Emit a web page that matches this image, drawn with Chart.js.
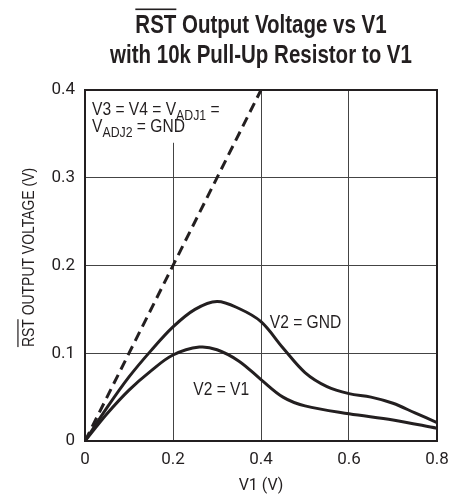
<!DOCTYPE html>
<html>
<head>
<meta charset="utf-8">
<script src="https://cdn.jsdelivr.net/npm/chart.js@4"></script>
<style>
  html, body { margin: 0; padding: 0; background: #fff; }
  #wrap { width: 459px; height: 496px; }
</style>
</head>
<body>
<div id="wrap"><canvas id="rstChart"></canvas></div>
<script>
const FONT = "'Liberation Sans', Arial, sans-serif";
const TICK_FONT = "Roboto, 'Liberation Sans', sans-serif";
const INK = "#231f20";
const NARROW = 0.82; // fake condensed face

// x axis (V1) and y axis ticks
const xTicks = [0, 0.2, 0.4, 0.6, 0.8];
const yTicks = [0, 0.1, 0.2, 0.3, 0.4];

// dashed reference: V3 = V4 = VADJ1 = VADJ2 = GND
const refV1 = [0, 0.4];
const refOut = [0, 0.4];

// V2 = GND
const gndV1 = [0, 0.05, 0.1, 0.15, 0.2, 0.25, 0.3, 0.35, 0.4, 0.45, 0.5, 0.55, 0.6, 0.65, 0.7, 0.75, 0.8];
const gndOut = [0, 0.038, 0.073, 0.103, 0.13, 0.15, 0.159, 0.151, 0.136, 0.106, 0.078, 0.062, 0.054, 0.05, 0.043, 0.032, 0.021];

// V2 = V1
const v1V1 = [0, 0.05, 0.1, 0.15, 0.2, 0.26, 0.3, 0.35, 0.4, 0.45, 0.5, 0.6, 0.7, 0.8];
const v1Out = [0, 0.031, 0.058, 0.08, 0.098, 0.107, 0.104, 0.091, 0.07, 0.05, 0.04, 0.031, 0.024, 0.0145];

const toPoints = (xs, ys) => xs.map((x, i) => ({ x: x, y: ys[i] }));

// draws condensed text; parts = [{t, sub, over}], returns width
function drawRun(ctx, parts, x, y, size, bold, align) {
  const fontOf = (p) => (bold ? "bold " : "") + (p.sub ? Math.round(size * 0.78) : size) + "px " + FONT;
  let total = 0;
  parts.forEach(p => { ctx.font = fontOf(p); total += ctx.measureText(p.t).width; });
  ctx.save();
  ctx.translate(x, y);
  ctx.scale(NARROW, 1);
  let cx = align === "center" ? -total / 2 : 0;
  ctx.textAlign = "left";
  parts.forEach(p => {
    ctx.font = fontOf(p);
    const w = ctx.measureText(p.t).width;
    ctx.fillText(p.t, cx, p.sub ? size * 0.28 : 0);
    if (p.over) ctx.fillRect(cx, -size * 0.98, w, bold ? 1.6 : 1.2);
    cx += w;
  });
  ctx.restore();
}

const decor = {
  id: "decor",
  beforeDatasetsDraw(chart) {
    const { ctx, chartArea, scales } = chart;
    // 0.2 grid line is interrupted by the note
    const gx = scales.x.getPixelForValue(0.2);
    ctx.save();
    ctx.fillStyle = "#fff";
    ctx.fillRect(gx - 2, chartArea.top + 1, 4, scales.y.getPixelForValue(0.341) - chartArea.top);
    ctx.restore();
  },
  afterDatasetsDraw(chart) {
    const { ctx, chartArea, scales } = chart;
    const { left, top, right, bottom } = chartArea;
    ctx.save();
    // plot frame
    ctx.strokeStyle = INK;
    ctx.lineWidth = 2;
    ctx.strokeRect(left, top, right - left, bottom - top);

    ctx.fillStyle = INK;
    ctx.textBaseline = "alphabetic";

    // title
    const cx = (left + right) / 2;
    drawRun(ctx, [{ t: "RST", over: true }, { t: " Output Voltage vs V1" }], cx, 33, 25, true, "center");
    drawRun(ctx, [{ t: "with 10k Pull-Up Resistor to V1" }], cx, 63, 25, true, "center");

    // y axis title
    ctx.save();
    ctx.translate(34, (top + bottom) / 2 - 8);
    ctx.rotate(-Math.PI / 2);
    drawRun(ctx, [{ t: "RST", over: true }, { t: " OUTPUT VOLTAGE (V)" }], 0, 0, 17, false, "center");
    ctx.restore();

    // notes
    const nx = scales.x.getPixelForValue(0.016);
    drawRun(ctx, [{ t: "V3 = V4 = V" }, { t: "ADJ1", sub: true }, { t: " =" }], nx, scales.y.getPixelForValue(0.372), 19, false);
    drawRun(ctx, [{ t: "V" }, { t: "ADJ2", sub: true }, { t: " = GND" }], nx, scales.y.getPixelForValue(0.352), 19, false);
    drawRun(ctx, [{ t: "V2 = GND" }], scales.x.getPixelForValue(0.42), scales.y.getPixelForValue(0.129), 19, false);
    drawRun(ctx, [{ t: "V2 = V1" }], scales.x.getPixelForValue(0.246), scales.y.getPixelForValue(0.052), 19, false);
    ctx.restore();
  }
};

new Chart(document.getElementById("rstChart").getContext("2d"), {
  type: "scatter",
  data: {
    datasets: [
      {
        label: "V3 = V4 = VADJ1 = VADJ2 = GND",
        data: toPoints(refV1, refOut),
        showLine: true,
        borderColor: INK,
        borderWidth: 3,
        borderDash: [10, 6],
        pointRadius: 0,
      },
      {
        label: "V2 = GND",
        data: toPoints(gndV1, gndOut),
        showLine: true,
        borderColor: INK,
        borderWidth: 3,
        tension: 0.35,
        pointRadius: 0,
      },
      {
        label: "V2 = V1",
        data: toPoints(v1V1, v1Out),
        showLine: true,
        borderColor: INK,
        borderWidth: 3,
        tension: 0.35,
        pointRadius: 0,
      },
    ],
  },
  options: {
    responsive: true,
    maintainAspectRatio: false,
    animation: false,
    layout: {
      padding: { top: 90, right: 22, left: 0, bottom: 0 },
    },
    scales: {
      x: {
        type: "linear",
        min: 0,
        max: 0.8,
        afterBuildTicks: (s) => { s.ticks = xTicks.map(v => ({ value: v })); },
        afterFit: (s) => { s.height = 55; },
        grid: { color: "#444", lineWidth: 1, drawTicks: false },
        border: { display: false },
        ticks: {
          color: INK,
          padding: 9,
          font: { family: TICK_FONT, size: 17 },
          callback: (v) => String(v),
        },
        title: {
          display: true,
          text: "V1 (V)",
          color: INK,
          font: { family: TICK_FONT, size: 16 },
          padding: { top: 4, bottom: 0 },
        },
      },
      y: {
        type: "linear",
        min: 0,
        max: 0.4,
        afterBuildTicks: (s) => { s.ticks = yTicks.map(v => ({ value: v })); },
        afterFit: (s) => { s.width = 85; },
        grid: { color: "#444", lineWidth: 1, drawTicks: false },
        border: { display: false },
        ticks: {
          color: INK,
          padding: 10,
          font: { family: TICK_FONT, size: 17 },
          callback: (v) => String(v),
        },
      },
    },
    plugins: {
      legend: { display: false },
      tooltip: { enabled: false },
    },
  },
  plugins: [decor],
});
</script>
</body>
</html>
